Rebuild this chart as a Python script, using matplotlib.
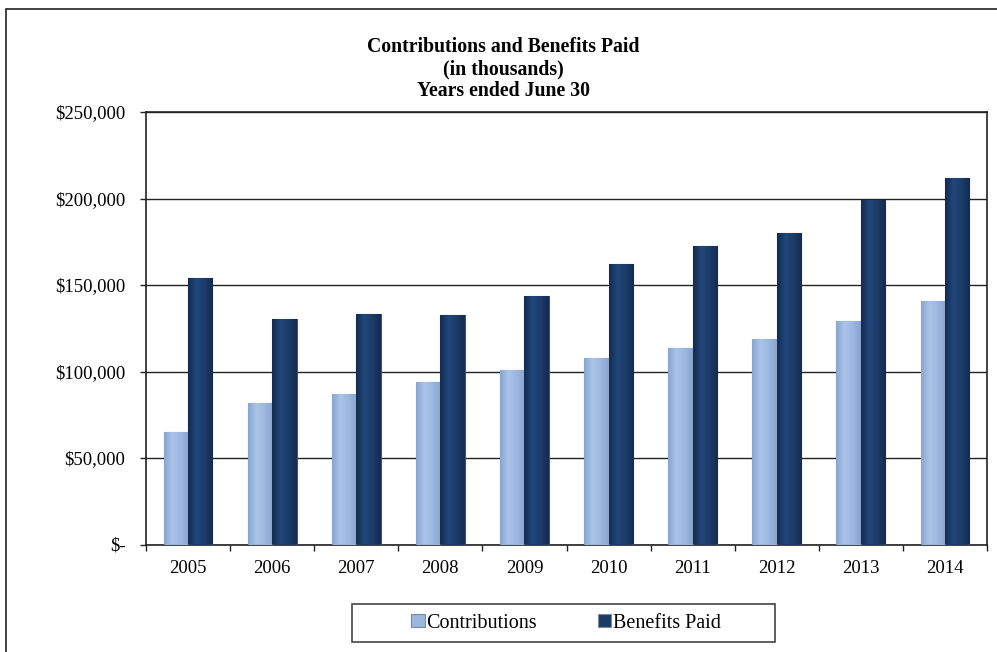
import numpy as np
import matplotlib.pyplot as plt
from matplotlib.colors import LinearSegmentedColormap
from matplotlib.patches import Rectangle
from matplotlib.ticker import FuncFormatter

# Contributions and benefits paid, in thousands of dollars
years = ['2005', '2006', '2007', '2008', '2009', '2010', '2011', '2012', '2013', '2014']
contributions = [65200, 82000, 87200, 94100, 100700, 107600, 113800, 118600, 129400, 140800]
benefits_paid = [153900, 130200, 133400, 132800, 143800, 162000, 172400, 179900, 199100, 211700]

plt.rcParams['font.family'] = ['Liberation Serif', 'DejaVu Serif']

fig = plt.figure(figsize=(9.97, 6.52), dpi=100)
W, H = 997, 652
ax = fig.add_axes([146 / W, 1 - 544.5 / H, (987 - 146) / W, (544.5 - 112) / H])

# outer chart border (left and top edges visible)
fig.patches.append(Rectangle((6 / W, -0.05), 1.1, 1 - 9 / H + 0.05, transform=fig.transFigure,
                             fill=False, edgecolor='#222222', linewidth=1.2))

x = np.arange(len(years))
bw = 0.29

light_cmap = LinearSegmentedColormap.from_list('light', ['#8AA6CF', '#A9C4E8', '#9CB8DF', '#8AA6CF'])
dark_cmap = LinearSegmentedColormap.from_list('dark', ['#132B50', '#22477B', '#1C3C6A', '#132B50'])

bars_c = ax.bar(x - bw / 2, contributions, bw, color='#9BB7DE', edgecolor='#7F8A99',
                linewidth=0.8, label='Contributions', zorder=3)
bars_b = ax.bar(x + bw / 2, benefits_paid, bw, color='#1B3A66', edgecolor='#4A5566',
                linewidth=0.8, label='Benefits Paid', zorder=3)

# shade each bar with a horizontal gradient
grad = np.linspace(0, 1, 64).reshape(1, -1)
for bars, cmap in [(bars_c, light_cmap), (bars_b, dark_cmap)]:
    for b in bars:
        x0, w, h = b.get_x(), b.get_width(), b.get_height()
        im = ax.imshow(grad, cmap=cmap, aspect='auto', extent=(x0, x0 + w, 0, h), zorder=3.5)
        im.set_clip_path(b)

ax.set_xlim(-0.5, len(years) - 0.5)
ax.set_ylim(0, 250000)
ax.set_yticks(np.arange(0, 250001, 50000))
ax.yaxis.set_major_formatter(FuncFormatter(lambda v, p: '$-' if v == 0 else f'${v:,.0f}'))
ax.yaxis.grid(True, color='#222222', linewidth=1.0, zorder=1)

ax.set_xticks(x)
ax.set_xticklabels(years)
ax.set_xticks(np.arange(-0.5, len(years)), minor=True)
ax.tick_params(axis='x', which='major', length=0, pad=11, labelsize=13.5)
ax.tick_params(axis='x', which='minor', length=4.3, direction='out', width=1, color='#222222')
ax.tick_params(axis='y', length=4.3, direction='out', width=1, color='#222222', labelsize=13.5, pad=10.5)

for s in ax.spines.values():
    s.set_color('#222222')
    s.set_linewidth(1.2)

title_x = 503 / W
fig.text(title_x, 1 - 47.5 / H, 'Contributions and Benefits Paid',
         ha='center', va='center', fontsize=14.2, fontweight='bold')
fig.text(title_x, 1 - 69 / H, '(in thousands)',
         ha='center', va='center', fontsize=14.2, fontweight='bold')
fig.text(title_x, 1 - 90.5 / H, 'Years ended June 30',
         ha='center', va='center', fontsize=14.2, fontweight='bold')

# legend entries without frame, box drawn separately
leg = fig.legend(handles=[bars_c, bars_b], loc='center', ncol=2,
                 bbox_to_anchor=(566 / W, 1 - 623 / H), frameon=False,
                 fontsize=14.5, handlelength=0.65, handleheight=0.65, handletextpad=0.1,
                 columnspacing=3.0, borderaxespad=0)
for p in leg.get_patches():
    p.set_edgecolor('#7F8A99')
fig.patches.append(Rectangle((352 / W, 1 - 642 / H), (775 - 352) / W, 38 / H,
                             transform=fig.transFigure, fill=False,
                             edgecolor='#444444', linewidth=1.2))

fig.savefig('out.png', dpi=100)
